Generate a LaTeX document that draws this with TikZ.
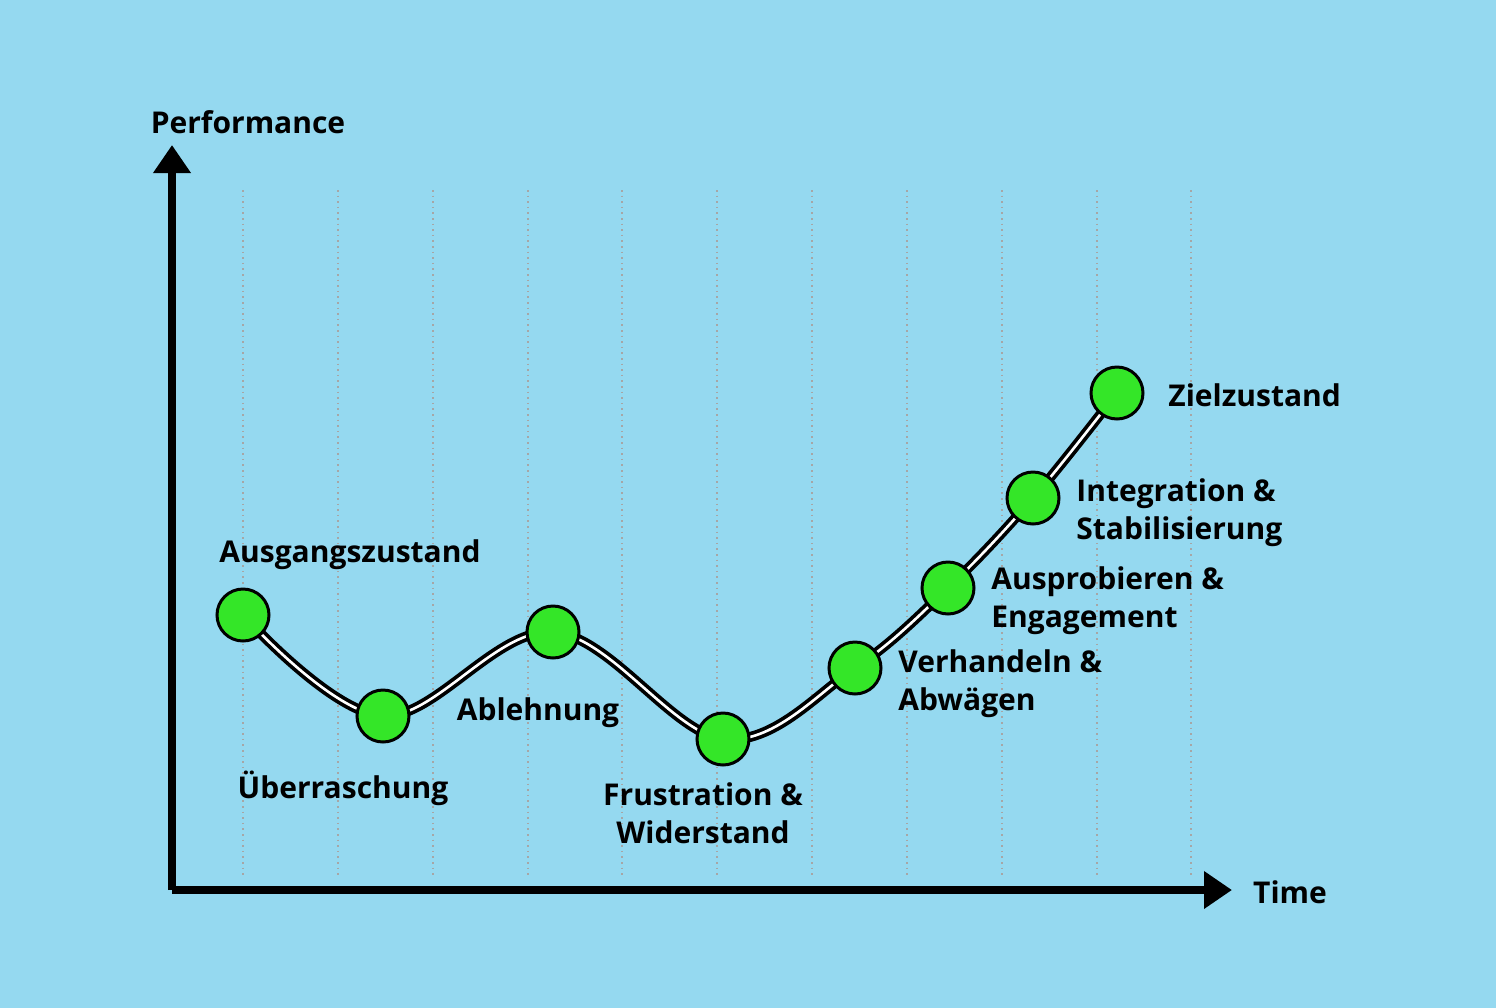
\documentclass[tikz,border=0pt]{standalone}
\usepackage{fontspec}
\setmainfont{Open Sans}
\definecolor{bgblue}{RGB}{149,217,240}
\definecolor{dotgreen}{RGB}{52,230,40}
\tikzset{
  lbl/.style={font=\fontsize{15}{19}\selectfont\bfseries, align=left, inner sep=0pt},
  stage/.style={circle, draw=black, line width=1.5pt, fill=dotgreen, minimum size=26pt, inner sep=0pt},
  grid/.style={gray!70, dotted, line width=0.8pt},
  axis/.style={line width=4pt, -{Triangle[length=14pt,width=18pt]}}
}
\usetikzlibrary{arrows.meta}
\begin{document}
\begin{tikzpicture}[x=0.5pt,y=-0.5pt]
  \fill[bgblue] (0,0) rectangle (1496,1008);
  \useasboundingbox (0,0) rectangle (1496,1008);

  % grid
  \foreach \gx in {243,338,433,528,622,717,812,907,1002,1097,1191}{
    \draw[grid] (\gx,190) -- (\gx,875);
  }

  % axes
  \coordinate (origin) at (172,890);
  \coordinate (ytip) at (172,145);
  \coordinate (xtip) at (1232,890);
  \draw[axis] (origin) -- (ytip);
  \draw[axis] (origin) -- (xtip);
  \node[lbl] (ylab) at (248,122) {Performance};
  \node[lbl] (xlab) at (1290,892) {Time};

  % stages
  \coordinate (s1) at (243,615);
  \coordinate (s2) at (383,716);
  \coordinate (s3) at (553,632);
  \coordinate (s4) at (723,739);
  \coordinate (s5) at (855,668);
  \coordinate (s6) at (948,588);
  \coordinate (s7) at (1033,498);
  \coordinate (s8) at (1117,393);
  \draw[line width=5pt, line cap=round] plot[smooth, tension=0.6] coordinates {(s1) (s2) (s3) (s4) (s5) (s6) (s7) (s8)};
  \draw[white, line width=1.3pt, line cap=round] plot[smooth, tension=0.6] coordinates {(s1) (s2) (s3) (s4) (s5) (s6) (s7) (s8)};
  \foreach \s in {s1,s2,s3,s4,s5,s6,s7,s8}{
    \node[stage] (n\s) at (\s) {};
  }

  % labels
  \node[lbl] (l1) at (350,555) {Ausgangszustand};
  \node[lbl] (l2) at (343,788) {Überraschung};
  \node[lbl] (l3) at (538,713) {Ablehnung};
  \node[lbl, align=center] (l4) at (703,813) {Frustration \&\\Widerstand};
  \node[lbl, anchor=west] (l5) at (898,684) {Verhandeln \&\\Abwägen};
  \node[lbl, anchor=west] (l6) at (991,601) {Ausprobieren \&\\Engagement};
  \node[lbl, anchor=west] (l7) at (1076,513) {Integration \&\\Stabilisierung};
  \node[lbl, anchor=west] (l8) at (1168,395) {Zielzustand};
\end{tikzpicture}
\end{document}
